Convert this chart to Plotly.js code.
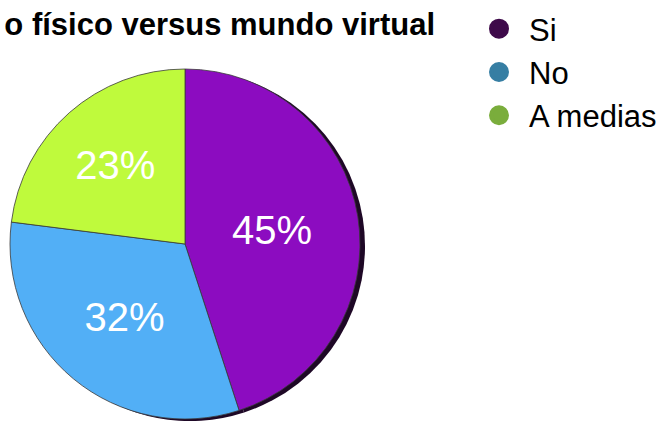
<!DOCTYPE html>
<html>
<head>
<meta charset="utf-8">
<script src="https://cdn.plot.ly/plotly-3.0.1.min.js"></script>
<style>html,body{margin:0;padding:0;background:#fff;}#chart{width:664px;height:426px;}</style>
</head>
<body>
<div id="chart"></div>
<script>
var categories = ["Si", "No", "A medias"];
var values = [45, 32, 23];
var sliceColors = ["#8c0cc0", "#52aff6", "#bffa3c"];
var legendColors = ["#3e0a4a", "#367ea3", "#7aad3c"];
var titleText = "o físico versus mundo virtual";

var W = 664, H = 426;
var cx = 185, cy = 244, r = 175;
function dom(cxp, cyp){
  return {x:[(cxp - r)/W, (cxp + r)/W], y:[(H - cyp - r)/H, (H - cyp + r)/H]};
}

var traces = [];
// shadow
traces.push({
  type: "pie", labels: categories, values: values, sort: false, direction: "clockwise",
  rotation: 0, domain: dom(cx + 5, cy + 2),
  marker: {colors: categories.map(function(){return "#1e0826";})},
  textinfo: "none", hoverinfo: "skip", showlegend: false
});
traces.push({
  type: "pie", labels: categories, values: values, sort: false, direction: "clockwise",
  rotation: 0, domain: dom(cx, cy),
  marker: {colors: sliceColors, line: {color: "#3a3a3a", width: 0.8}},
  textinfo: "percent", texttemplate: "%{percent:.0%}", textposition: "inside",
  insidetextfont: {family: "Liberation Sans, Arial, sans-serif", size: 40, color: "#ffffff"},
  insidetextorientation: "horizontal",
  showlegend: false
});
categories.forEach(function(c, i){
  traces.push({
    type: "scatter", mode: "markers", x: [null], y: [null], name: c,
    marker: {symbol: "circle", size: 16, color: legendColors[i], line: {color: legendColors[i], width: 4}},
    showlegend: true
  });
});

var layout = {
  width: W, height: H,
  margin: {l: 0, r: 0, t: 0, b: 0},
  paper_bgcolor: "#ffffff", plot_bgcolor: "#ffffff",
  xaxis: {visible: false}, yaxis: {visible: false},
  title: {text: "<b>" + titleText + "</b>", x: 435/W, xanchor: "right", xref: "paper",
          y: 1 - 24/H, yanchor: "middle", yref: "container",
          font: {family: "Liberation Sans, Arial, sans-serif", size: 31, color: "#000"}},
  legend: {x: 469/W, y: 1 - 2/H, xanchor: "left", yanchor: "top",
           font: {family: "Liberation Sans, Arial, sans-serif", size: 31, color: "#000"},
           itemwidth: 50, bgcolor: "rgba(0,0,0,0)"},
  showlegend: true
};

Plotly.newPlot("chart", traces, layout, {displayModeBar: false, staticPlot: true});
</script>
</body>
</html>
